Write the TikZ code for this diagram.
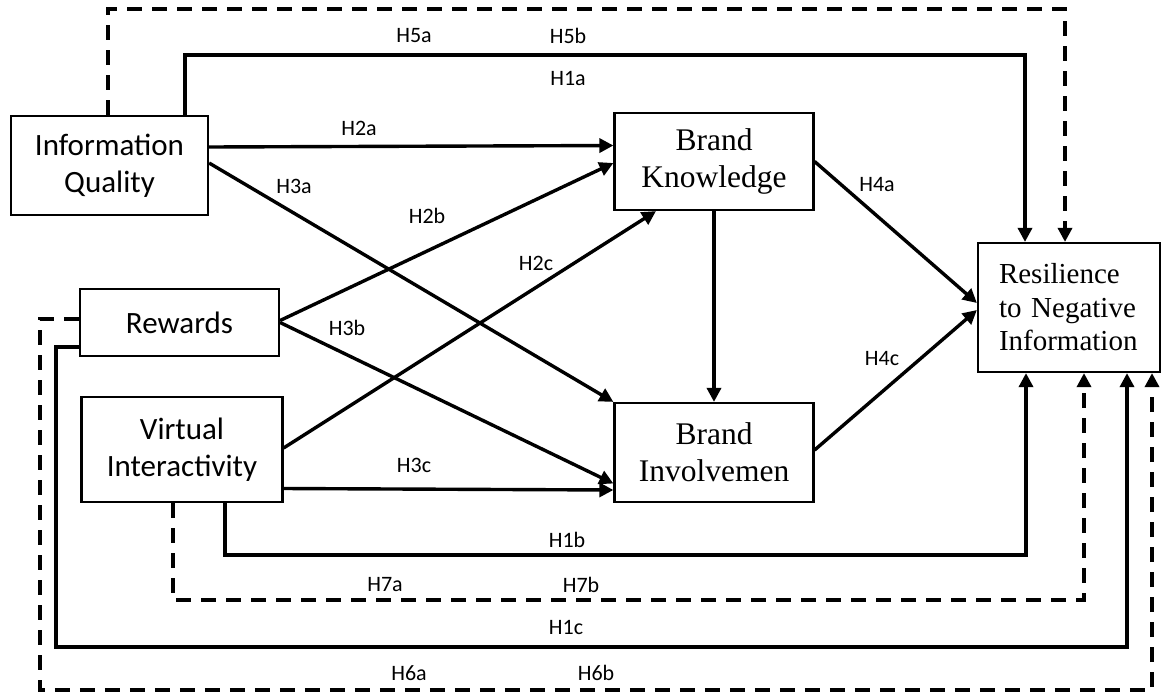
\documentclass[tikz,border=0pt]{standalone}
\usepackage{fontspec}
\setmainfont{Liberation Serif}
\newfontfamily\calib{Carlito}
\usetikzlibrary{arrows.meta}

\tikzset{
  box/.style={draw, line width=2.2pt, inner sep=0pt, align=center},
  sbox/.style={box, font=\calib\fontsize{31}{37}\selectfont},
  tbox/.style={box, font=\fontsize{31.5}{37}\selectfont},
  lab/.style={font=\calib\fontsize{22}{26}\selectfont, inner sep=0pt},
  arr/.style={line width=3.4pt, -{Triangle[length=14pt,width=14pt]}},
  darr/.style={arr, dash pattern=on 15pt off 10pt},
  conn/.style={line width=3.4pt},
  dconn/.style={conn, dash pattern=on 15pt off 10pt}
}

\begin{document}
\begin{tikzpicture}[x=1pt,y=-1pt]
\useasboundingbox (0,0) rectangle (1162,694);

% constructs
\node[sbox, minimum width=197pt, minimum height=99pt] (iq) at (109.5,165.5) {Information\\Quality};
\node[sbox, minimum width=199pt, minimum height=67pt] (rew) at (179.5,322.5) {Rewards};
\node[sbox, minimum width=201pt, minimum height=105pt] (vi) at (182,449.5) {Virtual\\Interactivity};
\node[tbox, minimum width=199pt, minimum height=97pt] (bk) at (714,161.5) {Brand\\Knowledge};
\node[tbox, minimum width=199pt, minimum height=99pt] (bi) at (714,452.5) {Brand\\Involvemen};
\node[tbox, minimum width=182pt, minimum height=129pt, text width=140pt, align=left,
      font=\fontsize{29}{33.5}\selectfont] (res) at (1069,307.5) {Resilience\\to Negative\\Information};

% corner points of the long paths
\coordinate (c5) at (1065,9);
\coordinate (c1a) at (1025,55);
\coordinate (c1b) at (1026,555);
\coordinate (c7) at (1084,600);
\coordinate (c1c) at (1127,647);
\coordinate (c6) at (1152,690);

% direct paths
\draw[arr] ([yshift=18.5pt]iq.east) -- ([yshift=16pt]bk.west);
\draw[arr] ([yshift=2.5pt]iq.east) -- (bi.north west);
\draw[arr] ([yshift=2pt]rew.east) -- ([yshift=-1.5pt]bk.west);
\draw[arr] (rew.east) -- ([yshift=-31pt]bi.west);
\draw[arr] ([yshift=1.5pt]vi.east) -- ([xshift=-58pt]bk.south);
\draw[arr] ([yshift=-39pt]vi.east) -- ([yshift=-37.5pt]bi.west);
\draw[arr] (bk.south) -- (bi.north);
\draw[arr] (bk.east) -- ([yshift=4.5pt]res.west);
\draw[arr] ([yshift=2.5pt]bi.east) -- ([yshift=-2.5pt]res.west);

% long paths round the model
\draw[darr] ([xshift=-1.5pt]iq.north) |- (c5) -- (c5 |- res.north);
\draw[arr] ([xshift=75.5pt]iq.north) |- (c1a) -- (c1a |- res.north);
\draw[arr] ([xshift=43pt]vi.south) |- (c1b) -- (c1b |- res.south);
\draw[darr] ([xshift=-9pt]vi.south) |- (c7) -- (c7 |- res.south);
\draw[arr] ([yshift=-24.5pt]rew.west) -- ++(-23,0) |- (c1c) -- (c1c |- res.south);
\draw[darr] ([yshift=3.5pt]rew.west) -- ++(-39,0) |- (c6) -- (c6 |- res.south);

% hypothesis labels
\node[lab] (l5a) at (414,36) {H5a};
\node[lab] (l5b) at (568,36) {H5b};
\node[lab] (l1a) at (568,78) {H1a};
\node[lab] (l2a) at (359,128) {H2a};
\node[lab] (l3a) at (294,186) {H3a};
\node[lab] (l2b) at (427,216) {H2b};
\node[lab] (l2c) at (536,263) {H2c};
\node[lab] (l3b) at (347,328) {H3b};
\node[lab] (l3c) at (414,465) {H3c};
\node[lab] (l4a) at (877,185) {H4a};
\node[lab] (l4c) at (882,359) {H4c};
\node[lab] (l1b) at (567,540) {H1b};
\node[lab] (l7a) at (385,585) {H7a};
\node[lab] (l7b) at (581,585) {H7b};
\node[lab] (l1c) at (566,627) {H1c};
\node[lab] (l6a) at (409,673) {H6a};
\node[lab] (l6b) at (596,673) {H6b};

\end{tikzpicture}
\end{document}
